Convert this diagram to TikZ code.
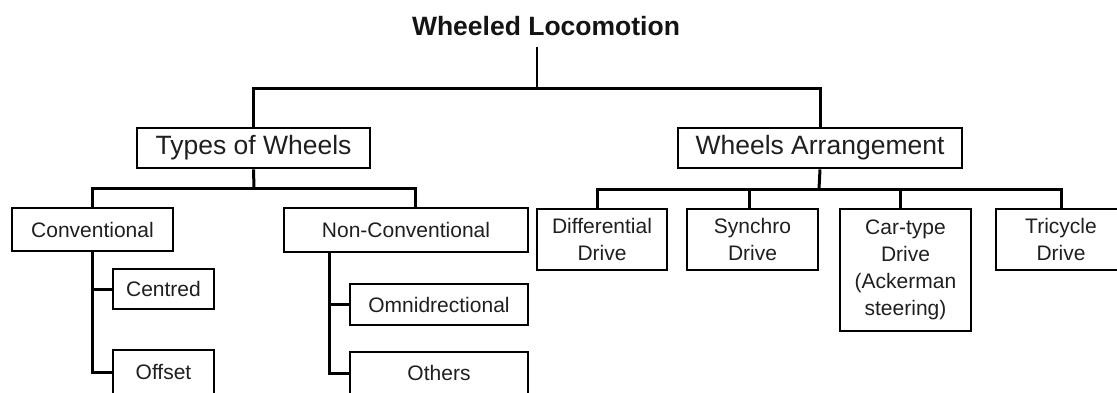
\documentclass[tikz,border=0pt]{standalone}
\usepackage{fontspec}
\setmainfont{Liberation Sans}
\begin{document}
\begin{tikzpicture}[x=1pt,y=-1pt,
  box/.style={draw, line width=2.9pt, inner sep=0pt, align=center, text=black!88,
    font=\fontsize{21}{27}\selectfont},
  bigbox/.style={box, font=\fontsize{26.5}{32}\selectfont},
  conn/.style={line width=3pt},
  thin conn/.style={line width=2.2pt}]
\useasboundingbox (0,0) rectangle (1117,392);
\clip (0,0) rectangle (1117,392);
% title
\node[font=\bfseries\fontsize{26.5}{32}\selectfont, inner sep=0pt, text=black!92] (title) at (546,26) {Wheeled Locomotion};
% level 1
\node[bigbox, minimum width=233pt, minimum height=40pt] (tw) at (253.5,148) {Types of Wheels};
\node[bigbox, minimum width=284pt, minimum height=40pt] (wa) at (820,148) {Wheels Arrangement};
% level 2 left
\node[box, minimum width=161pt, minimum height=43pt] (conv) at (92.5,229.5) {Conventional};
\node[box, minimum width=244pt, minimum height=44pt] (nonconv) at (406,230) {Non-Conventional};
\node[box, minimum width=101pt, minimum height=40pt] (centred) at (163.5,289) {Centred};
\node[box, minimum width=101pt, minimum height=44pt] (offset) at (163.5,372) {Offset};
\node[box, minimum width=178pt, minimum height=41pt] (omni) at (439,304.5) {Omnidrectional};
\node[box, minimum width=178pt, minimum height=42pt] (others) at (439,373) {Others};
% level 2 right
\node[box, minimum width=130pt, minimum height=61pt] (diff) at (602,239.5) {Differential\\Drive};
\node[box, minimum width=131pt, minimum height=61pt] (sync) at (752.5,239.5) {Synchro\\Drive};
\node[box, minimum width=131pt, minimum height=122pt] (car) at (905.5,270) {Car-type\\Drive\\(Ackerman\\steering)};
\node[box, minimum width=130pt, minimum height=61pt] (tri) at (1061,239.5) {Tricycle\\Drive};
% junction coordinates
\coordinate (t0) at (537,47);
\coordinate (j0) at (537,88);
\coordinate (j1) at (254,188);
\coordinate (j2) at (819,189);
\coordinate (nc0) at (329,252);
% connectors
\draw[thin conn] (t0) -- (j0);
\draw[conn] (tw.north) |- (j0) -| (wa.north);
\draw[conn] (tw.south) -- (j1);
\draw[conn] (conv.north) |- (j1) -| ([xshift=9pt]nonconv.north);
\draw[conn] (conv.south) |- (offset.west);
\draw[conn] (centred.west) -- (centred.west -| conv.south);
\draw[conn] (nc0) |- (others.west);
\draw[conn] (omni.west) -- (omni.west -| nc0);
\draw[conn] (wa.south) -- (j2);
\draw[conn] ([xshift=-5pt]diff.north) |- (j2) -| (tri.north);
\draw[conn] ([xshift=-3.5pt]sync.north) |- (j2);
\draw[conn] ([xshift=-5.5pt]car.north) |- (j2);
\end{tikzpicture}
\end{document}
